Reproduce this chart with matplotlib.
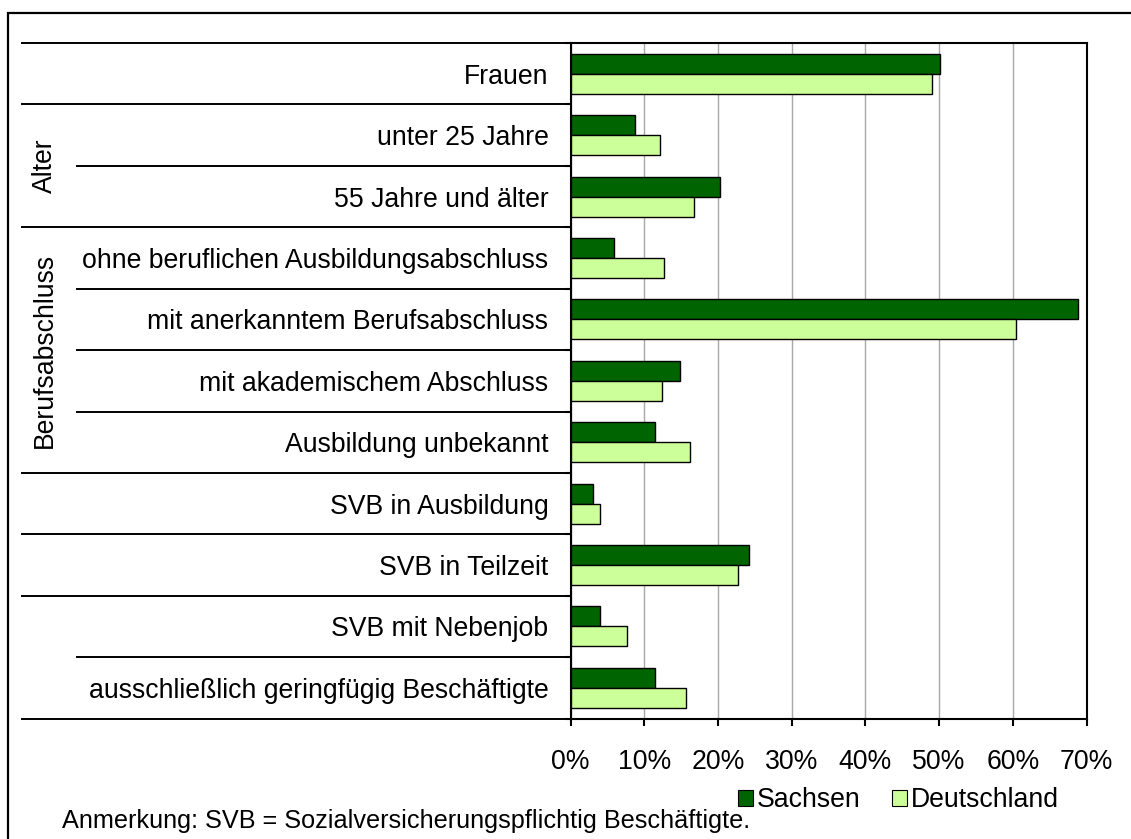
import matplotlib
matplotlib.use("Agg")
import matplotlib.pyplot as plt
import matplotlib.transforms as mtransforms
from matplotlib.lines import Line2D
from matplotlib.patches import Rectangle, Patch
import numpy as np

plt.rcParams['font.family'] = ['Liberation Sans', 'DejaVu Sans']

categories = [
    "Frauen",
    "unter 25 Jahre",
    "55 Jahre und älter",
    "ohne beruflichen Ausbildungsabschluss",
    "mit anerkanntem Berufsabschluss",
    "mit akademischem Abschluss",
    "Ausbildung unbekannt",
    "SVB in Ausbildung",
    "SVB in Teilzeit",
    "SVB mit Nebenjob",
    "ausschließlich geringfügig Beschäftigte",
]
sachsen = [50.1, 8.7, 20.2, 5.9, 68.9, 14.9, 11.5, 3.0, 24.2, 4.0, 11.5]
deutschland = [49.0, 12.1, 16.8, 12.7, 60.4, 12.4, 16.2, 4.0, 22.7, 7.7, 15.6]
series_names = ["Sachsen", "Deutschland"]
xticks = [0, 10, 20, 30, 40, 50, 60, 70]
xticklabels = ["0%", "10%", "20%", "30%", "40%", "50%", "60%", "70%"]
groups = [("Alter", 1, 3), ("Berufsabschluss", 3, 7)]
# boundaries (index) where separator starts at outer left edge; others start at inner edge
outer_boundaries = [1, 3, 7, 8, 9, 11]
inner_boundaries = [2, 4, 5, 6, 10]
note = "Anmerkung: SVB = Sozialversicherungspflichtig Beschäftigte."

W, H = 1131, 839
DPI = 100
fig = plt.figure(figsize=(W / DPI, H / DPI), dpi=DPI)

ax_left, ax_right, ax_top, ax_bottom = 570.7, 1086.5, 43, 718.6
ax = fig.add_axes([ax_left / W, (H - ax_bottom) / H,
                   (ax_right - ax_left) / W, (ax_bottom - ax_top) / H])

dark = "#006400"
light = "#CCFF99"
FS = 19.2

n = len(categories)
y = np.arange(n) + 0.5
bh = 0.326
ax.barh(y - bh / 2, sachsen, height=bh, color=dark, edgecolor="black", linewidth=1.0, zorder=3)
ax.barh(y + bh / 2, deutschland, height=bh, color=light, edgecolor="black", linewidth=1.0, zorder=3)

ax.set_xlim(0, 70)
ax.set_ylim(n, 0)
ax.set_xticks(xticks)
ax.set_xticklabels(xticklabels, fontsize=FS)
ax.tick_params(axis="x", direction="out", length=5, width=1.5, pad=17)
ax.grid(axis="x", color="#A8A8A8", linewidth=1.0, zorder=0)
ax.set_axisbelow(True)

ax.set_yticks(np.arange(n + 1))
ax.set_yticklabels([])
ax.tick_params(axis="y", which="major", direction="out", length=4, width=1.5)
ax.set_yticks(y, minor=True)
ax.set_yticklabels(categories, minor=True, fontsize=FS)
ax.tick_params(axis="y", which="minor", length=0, pad=16)

for s in ["left", "bottom", "top", "right"]:
    ax.spines[s].set_linewidth(1.5)
    ax.spines[s].set_color("black")

# separator lines in label area
trans = mtransforms.blended_transform_factory(fig.transFigure, ax.transData)
x_outer = 22 / W
x_inner = 77 / W
x_axis = ax_left / W
for b in outer_boundaries:
    fig.add_artist(Line2D([x_outer, x_axis], [b, b], transform=trans, color="black", linewidth=1.4))
for b in inner_boundaries:
    fig.add_artist(Line2D([x_inner, x_axis], [b, b], transform=trans, color="black", linewidth=1.4))
# top line over label area
fig.add_artist(Line2D([x_outer, x_axis], [0, 0], transform=trans, color="black", linewidth=1.4))

for name, a, b in groups:
    fig.text(45 / W, 0, name, transform=mtransforms.blended_transform_factory(fig.transFigure, ax.transData),
             rotation=90, ha="center", va="center", fontsize=FS)
for t in fig.texts:
    pass
# reposition group labels to group centres
for txt, (name, a, b) in zip(fig.texts, groups):
    txt.set_position((45 / W, (a + b) / 2))

# outer frame
fig.add_artist(Rectangle((8 / W, -0.1), 1.2, (H - 13) / H + 0.1, transform=fig.transFigure,
                         fill=False, edgecolor="black", linewidth=1.6))

# legend
handles = [Patch(facecolor=dark, edgecolor="black", linewidth=0.8),
           Patch(facecolor=light, edgecolor="black", linewidth=0.8)]
fig.legend(handles, series_names, loc="center left", bbox_to_anchor=(738 / W, (H - 800) / H),
           ncol=2, frameon=False, fontsize=FS, handlelength=0.55, handleheight=0.55,
           handletextpad=0.15, columnspacing=1.2, borderpad=0, borderaxespad=0)

fig.text(62 / W, (H - 821) / H, note, fontsize=18.2, ha="left", va="center")

fig.savefig("out.png", dpi=DPI)
